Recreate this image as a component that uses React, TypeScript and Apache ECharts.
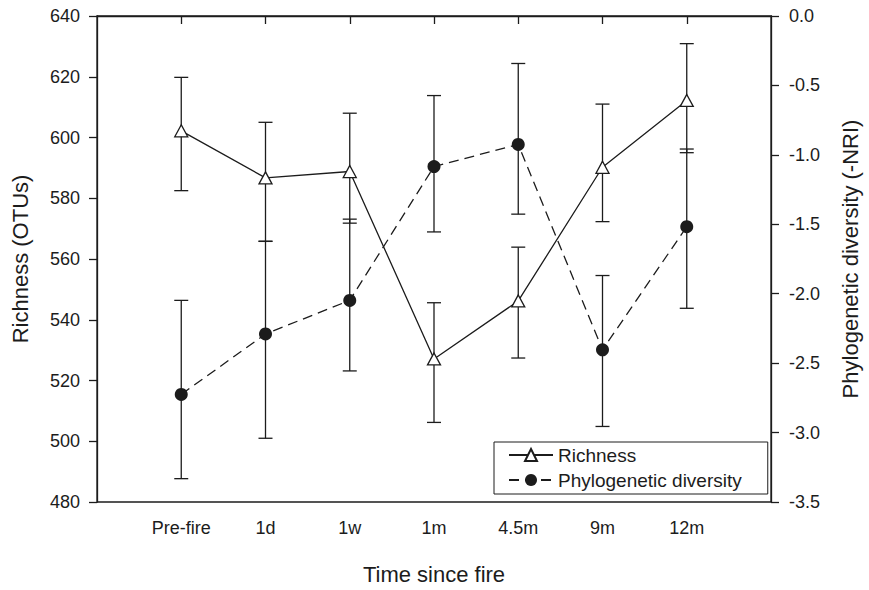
import React, { useEffect, useRef } from "react";
import * as echarts from "echarts";

const categories = ["Pre-fire", "1d", "1w", "1m", "4.5m", "9m", "12m"];
const axisCategories = ["", ...categories, " "];

const richnessMean = [602.2, 586.7, 588.8, 527.1, 546.2, 590.2, 612.2];
const richnessUpper = [619.8, 605.0, 608.0, 545.6, 563.9, 611.0, 630.9];
const richnessLower = [582.5, 565.8, 571.8, 506.2, 527.4, 572.3, 595.0];

const pdMean = [-2.725, -2.29, -2.048, -1.084, -0.925, -2.404, -1.517];
const pdUpper = [-2.048, -1.622, -1.463, -0.573, -0.342, -1.869, -0.958];
const pdLower = [-3.332, -3.041, -2.556, -1.555, -1.427, -2.956, -2.105];

const FONT = "'Liberation Sans', Arial, Helvetica, sans-serif";
const INK = "#1c1c1c";

function errorRender(params: any, api: any) {
  const x = api.value(0);
  const top = api.coord([x, api.value(1)]);
  const bot = api.coord([x, api.value(2)]);
  const hw = 7;
  const style = { stroke: INK, lineWidth: 1.3 };
  return {
    type: "group",
    children: [
      { type: "line", shape: { x1: top[0], y1: top[1], x2: bot[0], y2: bot[1] }, style },
      { type: "line", shape: { x1: top[0] - hw, y1: top[1], x2: top[0] + hw, y2: top[1] }, style },
      { type: "line", shape: { x1: bot[0] - hw, y1: bot[1], x2: bot[0] + hw, y2: bot[1] }, style },
    ],
  };
}

export default function App() {
  const ref = useRef<HTMLDivElement>(null);
  useEffect(() => {
    if (!ref.current) return;
    const chart = echarts.init(ref.current, undefined, { renderer: "svg" });
    const axisLine = { show: true, lineStyle: { color: INK, width: 1.3 } };
    const axisTick = { show: true, length: 8, lineStyle: { color: INK, width: 1.3 } };
    const labelStyle = { color: INK, fontSize: 18, fontFamily: FONT };
    const nameStyle = { color: INK, fontSize: 22, fontFamily: FONT };
    chart.setOption({
      animation: false,
      backgroundColor: "#fff",
      textStyle: { fontFamily: FONT },
      grid: {
        left: 97,
        right: 90,
        top: 16,
        bottom: 84,
        show: true,
        borderColor: INK,
        borderWidth: 1.3,
        backgroundColor: "transparent",
      },
      legend: {
        show: true,
        orient: "vertical",
        left: 494,
        top: 442,
        data: ["Richness", "Phylogenetic diversity"],
        itemWidth: 44,
        itemHeight: 15,
        itemGap: 5,
        padding: [3, 26, 4, 14],
        borderColor: INK,
        borderWidth: 1,
        borderRadius: 0,
        backgroundColor: "#fff",
        textStyle: { color: INK, fontSize: 19, fontFamily: FONT, lineHeight: 20 },
      },
      xAxis: {
        type: "category",
        data: axisCategories,
        boundaryGap: false,
        axisLine,
        axisTick: { ...axisTick, interval: (idx: number) => idx > 0 && idx < axisCategories.length - 1 },
        axisLabel: { ...labelStyle, interval: 0, margin: 17 },
        splitLine: { show: false },
        name: "Time since fire",
        nameLocation: "middle",
        nameGap: 61,
        nameTextStyle: nameStyle,
      },
      yAxis: [
        {
          type: "value",
          min: 480,
          max: 640,
          interval: 20,
          axisLine,
          axisTick,
          axisLabel: { ...labelStyle, margin: 17 },
          splitLine: { show: false },
          name: "Richness (OTUs)",
          nameLocation: "middle",
          nameRotate: 90,
          nameGap: 66,
          nameTextStyle: nameStyle,
        },
        {
          type: "value",
          position: "right",
          min: -3.5,
          max: 0,
          interval: 0.5,
          axisLine,
          axisTick,
          axisLabel: { ...labelStyle, margin: 18, formatter: (v: number) => v.toFixed(1) },
          splitLine: { show: false },
          name: "Phylogenetic diversity (-NRI)",
          nameLocation: "middle",
          nameRotate: 90,
          nameGap: 68,
          nameTextStyle: nameStyle,
        },
      ],
      series: [
        {
          type: "custom",
          name: "richErr",
          yAxisIndex: 0,
          renderItem: errorRender,
          encode: { x: 0, y: [1, 2] },
          data: categories.map((c, i) => [c, richnessUpper[i], richnessLower[i]]),
          z: 1,
        },
        {
          type: "custom",
          name: "pdErr",
          yAxisIndex: 1,
          renderItem: errorRender,
          encode: { x: 0, y: [1, 2] },
          data: categories.map((c, i) => [c, pdUpper[i], pdLower[i]]),
          z: 1,
        },
        {
          type: "line",
          name: "Richness",
          yAxisIndex: 0,
          data: categories.map((c, i) => [c, richnessMean[i]]),
          symbol: "triangle",
          symbolSize: [13, 12],
          showAllSymbol: true,
          lineStyle: { color: INK, width: 1.3, type: "solid" },
          itemStyle: { color: "#fff", borderColor: INK, borderWidth: 1.3 },
          z: 3,
        },
        {
          type: "line",
          name: "Phylogenetic diversity",
          yAxisIndex: 1,
          data: categories.map((c, i) => [c, pdMean[i]]),
          symbol: "circle",
          symbolSize: 13,
          showAllSymbol: true,
          lineStyle: { color: INK, width: 1.3, type: [10, 6] },
          itemStyle: { color: INK, borderColor: INK, borderWidth: 0 },
          z: 3,
        },
      ],
    });
    return () => chart.dispose();
  }, []);
  return (
    <div
      ref={ref}
      style={{ position: "fixed", left: 0, top: 0, width: 869, height: 590, background: "#fff" }}
    />
  );
}
